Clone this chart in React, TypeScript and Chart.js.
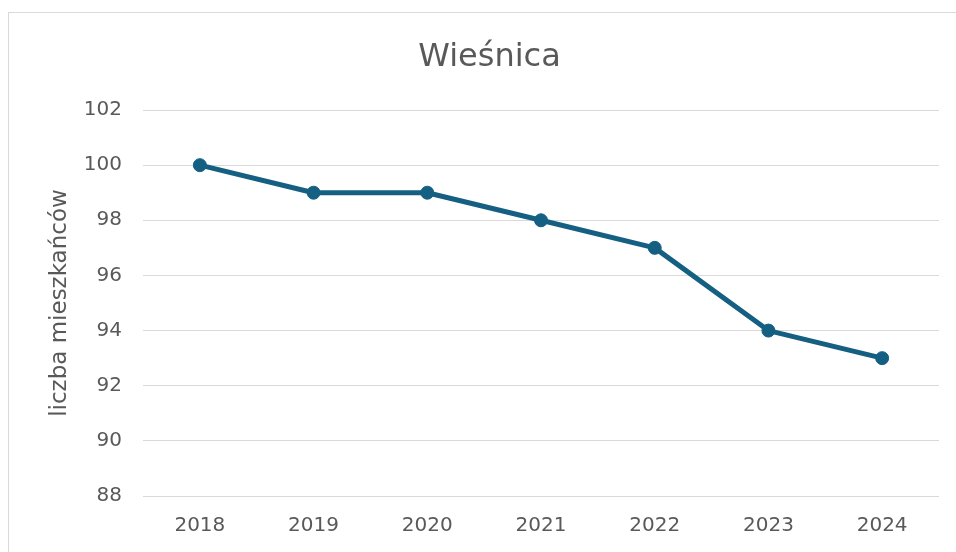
import React, { useEffect, useRef } from "react";
import { Chart, registerables } from "chart.js";

Chart.register(...registerables);

const chartTitle = "Wieśnica";
const yAxisTitle = "liczba mieszkańców";
const years = ["2018", "2019", "2020", "2021", "2022", "2023", "2024"];
const residents = [100, 99, 99, 98, 97, 94, 93];
const yMin = 88;
const yMax = 102;
const yStep = 2;

const FONT = "'DejaVu Sans', sans-serif";
const TEXT = "#595959";
const GRID = "#d9d9d9";
const LINE = "#156082";

export default function App() {
  const ref = useRef<HTMLCanvasElement | null>(null);

  useEffect(() => {
    const canvas = ref.current;
    if (!canvas) return;
    const chart = new Chart(canvas, {
      type: "line",
      data: {
        labels: years,
        datasets: [
          {
            data: residents,
            borderColor: LINE,
            backgroundColor: LINE,
            borderWidth: 5,
            borderJoinStyle: "round",
            borderCapStyle: "round",
            pointRadius: 6.5,
            pointBorderWidth: 1,
            pointBorderColor: LINE,
            pointBackgroundColor: LINE,
            tension: 0,
          },
        ],
      },
      options: {
        responsive: false,
        animation: false,
        layout: { padding: { left: 31, right: 31, top: 0, bottom: 0 } },
        plugins: {
          legend: { display: false },
          tooltip: { enabled: false },
          title: {
            display: true,
            text: chartTitle,
            color: TEXT,
            font: { family: FONT, size: 32, weight: "normal" },
            padding: { top: 25.6, bottom: 33 },
          },
        },
        scales: {
          x: {
            offset: true,
            grid: { display: false },
            border: { display: false },
            ticks: {
              color: TEXT,
              font: { family: FONT, size: 20 },
              padding: 10,
              maxRotation: 0,
            },
            afterFit: (s: any) => {
              s.height = 77;
            },
          },
          y: {
            min: yMin,
            max: yMax,
            grid: { color: GRID, lineWidth: 1, drawTicks: false },
            border: { display: false },
            ticks: {
              stepSize: yStep,
              color: TEXT,
              font: { family: FONT, size: 20 },
              padding: 21,
            },
            title: {
              display: true,
              text: yAxisTitle,
              color: TEXT,
              font: { family: FONT, size: 23, weight: "normal" },
              padding: { top: 6, bottom: 0 },
            },
            afterFit: (s: any) => {
              s.width = 103;
            },
          },
        },
      },
    });
    return () => chart.destroy();
  }, []);

  return (
    <div
      style={{
        position: "fixed",
        left: 0,
        top: 0,
        width: 956,
        height: 552,
        overflow: "hidden",
        background: "#fff",
      }}
    >
      <div
        style={{
          position: "absolute",
          left: 8,
          top: 12,
          width: 961,
          height: 580,
          border: "1px solid #d9d9d9",
          background: "#fff",
        }}
      >
        <canvas ref={ref} width={961} height={560} style={{ display: "block" }} />
      </div>
    </div>
  );
}
